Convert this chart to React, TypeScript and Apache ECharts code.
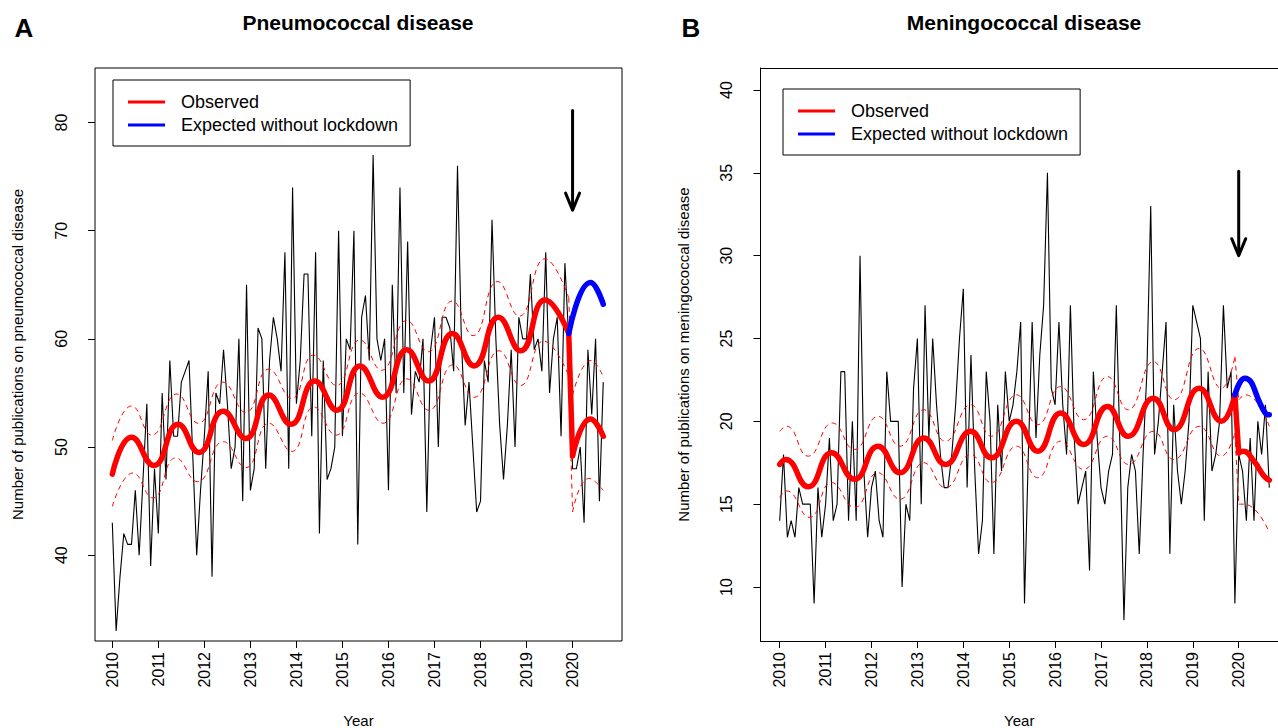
import React, { useEffect, useRef } from "react";
import * as echarts from "echarts";

const FONT = "'Liberation Sans', Arial, Helvetica, sans-serif";

const firstYear = 2010;
const yearTicks = [2010, 2011, 2012, 2013, 2014, 2015, 2016, 2017, 2018, 2019, 2020];
const pneumoTicks = [40, 50, 60, 70, 80];
const meningoTicks = [10, 15, 20, 25, 30, 35, 40];

// Monthly publication counts, Jan 2010 .. Sep 2020
const pneumoObserved = [
  43, 33, 38, 42, 41, 41, 46, 40, 47, 54, 39, 48,
  42, 55, 47, 58, 51, 51, 56, 57, 58, 49, 40, 46,
  51, 57, 38, 55, 54, 59, 54, 48, 50, 60, 45, 65,
  46, 48, 61, 60, 48, 58, 62, 60, 57, 68, 48, 74,
  54, 58, 66, 66, 51, 68, 42, 58, 47, 48, 50, 70,
  51, 60, 59, 70, 41, 62, 64, 58, 77, 60, 58, 60,
  46, 65, 55, 74, 55, 69, 53, 57, 56, 60, 44, 59,
  62, 50, 62, 62, 61, 57, 76, 60, 52, 56, 50, 44,
  45, 58, 56, 71, 60, 52, 47, 52, 59, 50, 62, 60,
  60, 66, 59, 60, 57, 68, 55, 60, 62, 51, 67, 60,
  48, 48, 50, 43, 59, 53, 60, 45, 56,
];

const meningoObserved = [
  14, 18, 13, 14, 13, 16, 15, 15, 15, 9, 16, 13,
  15, 19, 14, 15, 23, 23, 14, 20, 14, 30, 17, 13,
  16, 17, 14, 13, 23, 20, 20, 20, 10, 15, 14, 22,
  25, 15, 27, 19, 25, 21, 18, 16, 16, 18, 21, 25,
  28, 16, 24, 17, 12, 14, 23, 20, 12, 21, 17, 23,
  20, 21, 23, 26, 9, 18, 26, 19, 24, 27, 35, 22,
  21, 26, 21, 18, 27, 19, 15, 16, 17, 11, 23, 19,
  16, 15, 17, 18, 27, 18, 8, 16, 18, 17, 12, 18,
  23, 33, 18, 20, 23, 26, 12, 21, 17, 15, 17, 20,
  27, 26, 25, 14, 23, 17, 18, 20, 27, 22, 23, 9,
  18, 17, 14, 19, 14, 20, 18, 21, 16,
];

// Fitted model (peaks / troughs), [year, value]
const pneumoFitBefore = [
  [2010.0, 47.5], [2010.42, 50.9], [2010.9, 48.3], [2011.43, 52.1], [2011.88, 49.5],
  [2012.41, 53.3], [2012.9, 50.8], [2013.4, 54.8], [2013.88, 52.1], [2014.4, 56.1],
  [2014.88, 53.4], [2015.38, 57.5], [2015.87, 54.6], [2016.4, 59.0], [2016.87, 56.1],
  [2017.39, 60.5], [2017.86, 57.5], [2018.39, 62.0], [2018.87, 58.9], [2019.4, 63.6],
  [2019.917, 60.5],
];
const pneumoFitAfter = [[2020.0, 49.2], [2020.39, 52.6], [2020.667, 51.0]];
const pneumoExpected = [[2019.917, 60.5], [2020.39, 65.2], [2020.667, 63.2]];
const pneumoUpperBefore = [
  [2010.0, 50.6], [2010.42, 53.8], [2010.86, 51.1], [2011.4, 54.9], [2011.87, 52.2],
  [2012.4, 56.0], [2012.9, 53.2], [2013.4, 57.2], [2013.9, 54.5], [2014.37, 58.5],
  [2014.87, 55.7], [2015.38, 59.9], [2015.85, 57.1], [2016.4, 61.7], [2016.86, 58.8],
  [2017.39, 63.5], [2017.84, 60.3], [2018.37, 65.3], [2018.84, 62.1], [2019.4, 67.4],
  [2019.917, 63.8],
];
const pneumoUpperAfter = [[2020.0, 54.8], [2020.4, 58.0], [2020.667, 56.5]];
const pneumoLowerBefore = [
  [2010.0, 44.5], [2010.45, 47.6], [2010.88, 45.3], [2011.38, 49.0], [2011.85, 46.8],
  [2012.41, 50.5], [2012.9, 48.1], [2013.4, 52.2], [2013.9, 49.6], [2014.38, 53.7],
  [2014.86, 51.1], [2015.37, 55.0], [2015.88, 52.2], [2016.4, 56.3], [2016.88, 53.4],
  [2017.4, 57.6], [2017.86, 54.6], [2018.4, 58.9], [2018.87, 55.7], [2019.37, 59.8],
  [2019.917, 56.6],
];
const pneumoLowerAfter = [[2020.0, 44.0], [2020.36, 47.1], [2020.667, 46.0]];

const meningoFitBefore = [
  [2010.0, 17.4], [2010.13, 17.7], [2010.62, 16.05], [2011.13, 18.1], [2011.63, 16.5],
  [2012.14, 18.5], [2012.62, 16.9], [2013.14, 19.0], [2013.61, 17.4], [2014.16, 19.4],
  [2014.61, 17.8], [2015.16, 20.0], [2015.62, 18.2], [2016.12, 20.5], [2016.62, 18.6],
  [2017.14, 20.9], [2017.59, 19.1], [2018.14, 21.4], [2018.59, 19.5], [2019.14, 22.0],
  [2019.62, 20.0], [2019.917, 21.6],
];
const meningoFitAfter = [[2020.0, 18.1], [2020.1, 18.2], [2020.33, 17.6], [2020.55, 16.7], [2020.667, 16.45]];
const meningoExpected = [[2019.917, 21.6], [2020.13, 22.6], [2020.58, 20.5], [2020.667, 20.4]];
const meningoUpperBefore = [
  [2010.0, 19.4], [2010.15, 19.7], [2010.62, 17.9], [2011.15, 19.9], [2011.63, 18.3],
  [2012.14, 20.3], [2012.62, 18.5], [2013.14, 20.7], [2013.61, 18.8], [2014.16, 21.0],
  [2014.61, 19.1], [2015.16, 21.6], [2015.62, 19.8], [2016.12, 22.1], [2016.62, 20.1],
  [2017.14, 22.7], [2017.59, 20.7], [2018.14, 23.6], [2018.59, 21.3], [2019.14, 24.4],
  [2019.62, 22.0], [2019.917, 23.9],
];
const meningoUpperAfter = [[2020.0, 21.3], [2020.15, 21.6], [2020.667, 19.7]];
const meningoLowerBefore = [
  [2010.0, 15.4], [2010.15, 15.8], [2010.65, 14.2], [2011.13, 16.3], [2011.63, 14.8],
  [2012.14, 16.9], [2012.62, 15.3], [2013.14, 17.5], [2013.61, 16.0], [2014.16, 18.0],
  [2014.61, 16.3], [2015.16, 18.5], [2015.62, 16.6], [2016.12, 18.8], [2016.62, 17.1],
  [2017.14, 19.1], [2017.6, 17.4], [2018.14, 19.4], [2018.59, 17.7], [2019.14, 19.7],
  [2019.62, 17.9], [2019.917, 19.3],
];
const meningoLowerAfter = [[2020.0, 15.0], [2020.12, 15.0], [2020.667, 13.3]];

// Lockdown arrow: [year, top value, tip value]
const pneumoArrow = [2020, 81.1, 71.9];
const meningoArrow = [2020, 35.1, 30.0];

const RED = "#ff0000";
const BLUE = "#0000ff";

function panelSeries(
  idx: number,
  observed: number[],
  fitB: number[][],
  fitA: number[][],
  expected: number[][],
  upB: number[][],
  upA: number[][],
  loB: number[][],
  loA: number[][],
  arrow: number[]
) {
  const base = { xAxisIndex: idx, yAxisIndex: idx, showSymbol: false, symbol: "none", silent: true };
  const obsData = observed.map((v, i) => [firstYear + i / 12, v]);
  const dashed = (data: number[][], smooth: number | boolean) => ({
    ...base,
    type: "line",
    data,
    smooth,
    z: 3,
    lineStyle: { color: RED, width: 1, type: [5, 4] },
    itemStyle: { color: RED },
  });
  const fit = (data: number[][], smooth: number | boolean) => ({
    ...base,
    type: "line",
    name: "Observed",
    data,
    smooth,
    z: 4,
    lineStyle: { color: RED, width: 5.5, cap: "round", join: "round" },
    itemStyle: { color: RED },
  });
  return [
    {
      ...base,
      type: "line",
      data: obsData,
      z: 2,
      lineStyle: { color: "#000", width: 1.1 },
      itemStyle: { color: "#000" },
    },
    dashed(upB, 0.5),
    dashed([upB[upB.length - 1], upA[0]], false),
    dashed(upA, 0.5),
    dashed(loB, 0.5),
    dashed([loB[loB.length - 1], loA[0]], false),
    dashed(loA, 0.5),
    fit(fitB, 0.5),
    fit([fitB[fitB.length - 1], fitA[0]], false),
    fit(fitA, 0.5),
    {
      ...base,
      type: "line",
      name: "Expected without lockdown",
      data: expected,
      smooth: 0.5,
      z: 5,
      lineStyle: { color: BLUE, width: 5.5, cap: "round", join: "round" },
      itemStyle: { color: BLUE },
    },
    {
      type: "custom",
      xAxisIndex: idx,
      yAxisIndex: idx,
      silent: true,
      z: 6,
      data: [arrow],
      encode: { x: 0, y: [1, 2] },
      renderItem: (_params: any, api: any) => {
        const top = api.coord([api.value(0), api.value(1)]);
        const tip = api.coord([api.value(0), api.value(2)]);
        return {
          type: "group",
          children: [
            {
              type: "line",
              shape: { x1: top[0], y1: top[1], x2: tip[0], y2: tip[1] - 2 },
              style: { stroke: "#000", lineWidth: 3, lineCap: "round" },
            },
            {
              type: "polyline",
              shape: {
                points: [
                  [tip[0] - 7, tip[1] - 17],
                  [tip[0], tip[1]],
                  [tip[0] + 7, tip[1] - 17],
                ],
              },
              style: { stroke: "#000", lineWidth: 3, fill: "none", lineCap: "round", lineJoin: "round" },
            },
          ],
        };
      },
    },
  ];
}

function xAxisFor(idx: number, min: number, max: number, showLine: boolean) {
  return {
    type: "value",
    gridIndex: idx,
    min,
    max,
    name: "Year",
    nameLocation: "middle",
    nameGap: 72,
    nameTextStyle: { fontSize: 15, color: "#000", fontFamily: FONT },
    axisLine: { show: showLine, onZero: false, lineStyle: { color: "#000", width: 1 } },
    splitLine: { show: false },
    axisTick: {
      show: true,
      length: 7,
      customValues: yearTicks,
      lineStyle: { color: "#000", width: 1 },
    },
    axisLabel: {
      show: true,
      rotate: 90,
      margin: 11,
      fontSize: 16,
      color: "#000",
      fontFamily: FONT,
      customValues: yearTicks,
      formatter: (v: number) => String(Math.round(v)),
    },
  };
}

function yAxisFor(idx: number, min: number, max: number, ticks: number[], name: string, showLine: boolean) {
  return {
    type: "value",
    gridIndex: idx,
    min,
    max,
    name,
    nameLocation: "middle",
    nameGap: 70,
    nameTextStyle: { fontSize: 15, color: "#000", fontFamily: FONT },
    axisLine: { show: showLine, onZero: false, lineStyle: { color: "#000", width: 1 } },
    splitLine: { show: false },
    axisTick: {
      show: true,
      length: 7,
      customValues: ticks,
      lineStyle: { color: "#000", width: 1 },
    },
    axisLabel: {
      show: true,
      rotate: 90,
      margin: 26,
      fontSize: 16,
      color: "#000",
      fontFamily: FONT,
      customValues: ticks,
      formatter: (v: number) => String(Math.round(v)),
    },
  };
}

function legendFor(left: number, top: number) {
  return {
    left,
    top,
    orient: "vertical",
    selectedMode: false,
    backgroundColor: "#fff",
    borderColor: "#000",
    borderWidth: 1,
    borderRadius: 0,
    padding: [13, 12, 12, 15],
    itemWidth: 37,
    itemHeight: 3,
    itemGap: 5,
    textStyle: { fontSize: 18, color: "#000", fontFamily: FONT, lineHeight: 18, padding: [0, 0, 0, 11] },
    data: [
      { name: "Observed", icon: "rect", itemStyle: { color: RED } },
      { name: "Expected without lockdown", icon: "rect", itemStyle: { color: BLUE } },
    ],
  };
}

export default function App() {
  const ref = useRef<HTMLDivElement>(null);

  useEffect(() => {
    document.body.style.margin = "0";
    if (!ref.current) return;
    const chart = echarts.init(ref.current, null, { renderer: "svg" });
    const meningoXMin = 2009.582;
    const meningoXMax = 2020.856;
    chart.setOption({
      animation: false,
      backgroundColor: "#fff",
      textStyle: { fontFamily: FONT },
      grid: [
        {
          left: 95, top: 68, width: 527, height: 573, show: true,
          borderColor: "#000", borderWidth: 1, backgroundColor: "transparent",
          containLabel: false, outerBoundsMode: "none",
        },
        {
          left: 760.5, top: 68, width: 517.5, height: 573, show: false,
          containLabel: false, outerBoundsMode: "none",
        },
      ],
      xAxis: [
        xAxisFor(0, 2009.624, 2021.074, false),
        xAxisFor(1, meningoXMin, meningoXMax, true),
        {
          type: "value",
          gridIndex: 1,
          position: "top",
          min: meningoXMin,
          max: meningoXMax,
          axisLine: { show: true, onZero: false, lineStyle: { color: "#000", width: 1 } },
          axisTick: { show: false },
          axisLabel: { show: false },
          splitLine: { show: false },
        },
      ],
      yAxis: [
        yAxisFor(0, 32.07, 85.04, pneumoTicks, "Number of publications on pneumococcal disease", false),
        yAxisFor(1, 6.74, 41.33, meningoTicks, "Number of publications on meningococcal disease", true),
      ],
      legend: [legendFor(113, 80), legendFor(783, 89)],
      graphic: [
        { type: "text", x: 24, y: 28, style: { text: "A", fontSize: 26, fontWeight: "bold", fontFamily: FONT, fill: "#000", align: "center", verticalAlign: "middle" } },
        { type: "text", x: 691, y: 28, style: { text: "B", fontSize: 26, fontWeight: "bold", fontFamily: FONT, fill: "#000", align: "center", verticalAlign: "middle" } },
        { type: "text", x: 358, y: 22, style: { text: "Pneumococcal disease", fontSize: 21, fontWeight: "bold", fontFamily: FONT, fill: "#000", align: "center", verticalAlign: "middle" } },
        { type: "text", x: 1024, y: 22, style: { text: "Meningococcal disease", fontSize: 21, fontWeight: "bold", fontFamily: FONT, fill: "#000", align: "center", verticalAlign: "middle" } },
      ],
      series: [
        ...panelSeries(0, pneumoObserved, pneumoFitBefore, pneumoFitAfter, pneumoExpected,
          pneumoUpperBefore, pneumoUpperAfter, pneumoLowerBefore, pneumoLowerAfter, pneumoArrow),
        ...panelSeries(1, meningoObserved, meningoFitBefore, meningoFitAfter, meningoExpected,
          meningoUpperBefore, meningoUpperAfter, meningoLowerBefore, meningoLowerAfter, meningoArrow),
      ],
    });
    return () => chart.dispose();
  }, []);

  return (
    <div
      ref={ref}
      style={{ position: "absolute", left: 0, top: 0, width: 1278, height: 728, background: "#fff" }}
    />
  );
}
